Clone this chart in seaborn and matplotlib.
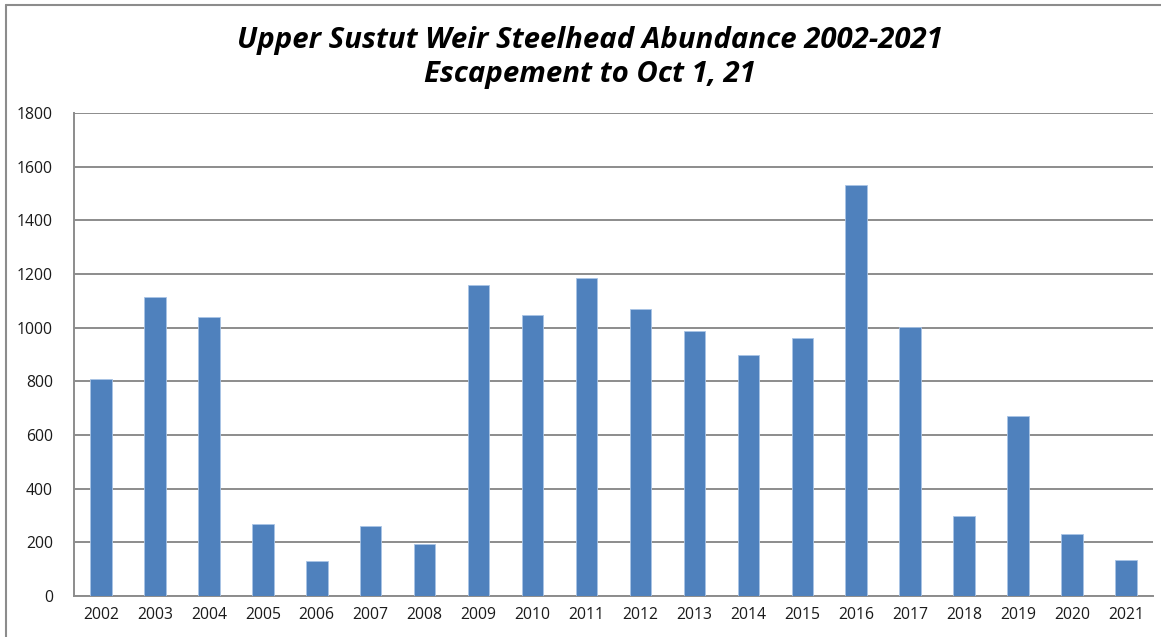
import matplotlib
matplotlib.use("Agg")
import matplotlib.pyplot as plt
import seaborn as sns
import pandas as pd
from matplotlib.lines import Line2D

years = [str(y) for y in range(2002, 2022)]
abundance = [810, 1114, 1040, 268, 131, 261, 194, 1160, 1047, 1185,
             1070, 988, 898, 962, 1532, 1003, 298, 671, 231, 134]
y_ticks = list(range(0, 2000, 200))
title = "Upper Sustut Weir Steelhead Abundance 2002-2021\nEscapement to Oct 1, 21"

sns.set_theme(style="white")
plt.rcParams['font.family'] = ['Open Sans', 'DejaVu Sans']

df = pd.DataFrame({"year": years, "count": abundance})

fig = plt.figure(figsize=(11.61, 6.37), dpi=100)
ax = fig.add_axes([0.0637, 0.0644, 0.9294, 0.7582])

sns.barplot(data=df, x="year", y="count", ax=ax, color="#4F81BD",
            width=0.4, saturation=1, edgecolor="#A9C4E6", linewidth=0.6, zorder=3)

ax.set_ylim(0, 1800)
ax.set_yticks(y_ticks)
ax.set_xlim(-0.5, len(years) - 0.5)
ax.yaxis.grid(True, color="#8C8C8C", linewidth=1.4, zorder=0)
ax.set_axisbelow(True)
ax.set_xlabel("")
ax.set_ylabel("")
for s in ["top", "right"]:
    ax.spines[s].set_visible(False)
for s in ["left", "bottom"]:
    ax.spines[s].set_color("#8C8C8C")
    ax.spines[s].set_linewidth(1.4)
ax.tick_params(axis="both", length=0, labelsize=11.3, colors="#1A1A1A")
ax.tick_params(axis="y", pad=15)
ax.tick_params(axis="x", pad=8)

fig.text(0.508, 0.910, title, ha="center", va="center", fontsize=21.2,
         fontweight="bold", fontstyle="italic", linespacing=1.2, color="black")

# outer chart border (left and top edges visible)
fig.add_artist(Line2D([6 / 1161, 6 / 1161], [0, 1 - 5 / 637],
                      transform=fig.transFigure, color="#8C8C8C", linewidth=1.5))
fig.add_artist(Line2D([6 / 1161, 1], [1 - 5 / 637, 1 - 5 / 637],
                      transform=fig.transFigure, color="#8C8C8C", linewidth=1.5))

fig.savefig("out.png", dpi=100)
